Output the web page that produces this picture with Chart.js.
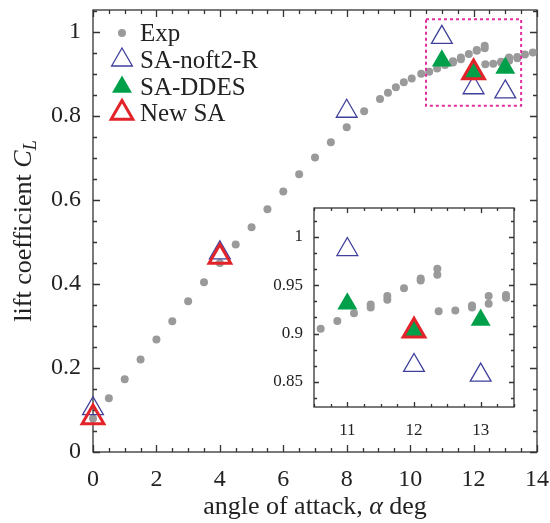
<!DOCTYPE html>
<html lang="en">
<head>
<meta charset="UTF-8">
<title>lift coefficient vs angle of attack</title>
<style>
  body { margin: 0; background: #fff; }
  #wrap { position: relative; width: 550px; height: 523px; }
  #insetChart { position: absolute; left: 270px; top: 200px; }
</style>
</head>
<body>
<div id="wrap">
  <canvas id="mainChart" width="550" height="523"></canvas>
  <canvas id="insetChart" width="262" height="245"></canvas>
</div>
<script src="https://cdn.jsdelivr.net/npm/chart.js@4.4.0/dist/chart.umd.min.js"></script>
<script>
// experiment
const alphaExp = [0, 0.5, 1, 1.5, 2, 2.5, 3, 3.5, 4, 4.5, 5, 5.5, 6, 6.5, 7, 7.5, 8, 8.55, 9.05, 9.3,
  9.55, 9.8, 10.05, 10.35, 10.6, 10.85, 11.1, 11.35, 11.35, 11.6, 11.6, 11.85, 12.1, 12.1, 12.35, 12.35,
  12.37, 12.62, 12.87, 12.87, 13.12, 13.12, 13.38, 13.38, 13.62, 13.87];
const clExp = [0.080, 0.128, 0.173, 0.220, 0.268, 0.311, 0.359, 0.404, 0.450, 0.494, 0.535, 0.578, 0.620, 0.661, 0.701, 0.737, 0.773, 0.811, 0.840, 0.855,
  0.868, 0.880, 0.889, 0.900, 0.905, 0.913, 0.921, 0.927, 0.930, 0.935, 0.939, 0.947, 0.955, 0.957, 0.961, 0.967,
  0.923, 0.924, 0.927, 0.929, 0.931, 0.939, 0.937, 0.940, 0.946, 0.951];
// simulations
const alphaNoft = [0, 4, 8, 11, 12, 13];
const clNoft = [0.103, 0.474, 0.811, 0.987, 0.867, 0.857];
const alphaDdes = [11, 12, 13];
const clDdes = [0.931, 0.903, 0.914];
const alphaNew = [0, 4, 12];
const clNew = [0.082, 0.464, 0.903];

const seriesNames = ['Exp', 'SA-noft2-R', 'SA-DDES', 'New SA'];

const xTicksMain = [0, 2, 4, 6, 8, 10, 12, 14];
const yTicksMain = [0, 0.2, 0.4, 0.6, 0.8, 1];
const xTicksInset = [11, 12, 13];
const yTicksInset = [0.85, 0.9, 0.95, 1];
const zoomX = [10.5, 13.5];
const zoomY = [0.824, 1.03];

const SERIF = 'Liberation Serif';
const TXT = '#222';

const pts = (xs, ys) => xs.map((v, i) => ({ x: v, y: ys[i] }));
const inBox = p => p.x >= zoomX[0] && p.x <= zoomX[1] && p.y >= zoomY[0] && p.y <= zoomY[1];

function makeSets(filter) {
  const f = filter || (() => true);
  return [
    { label: seriesNames[0], data: pts(alphaExp, clExp).filter(f), order: 4,
      pointStyle: 'circle', pointRadius: 4, pointBorderWidth: 0,
      pointBackgroundColor: '#9a9a9a', pointBorderColor: '#9a9a9a' },
    { label: seriesNames[1], data: pts(alphaNoft, clNoft).filter(f), order: 3,
      pointStyle: 'triangle', pointRadius: 12, pointBorderWidth: 1.3,
      pointBackgroundColor: 'rgba(0,0,0,0)', pointBorderColor: '#3f3f9c' },
    { label: seriesNames[2], data: pts(alphaDdes, clDdes).filter(f), order: 2,
      pointStyle: 'triangle', pointRadius: 11.5, pointBorderWidth: 0,
      pointBackgroundColor: '#00a04a', pointBorderColor: '#00a04a' },
    { label: seriesNames[3], data: pts(alphaNew, clNew).filter(f), order: 1,
      pointStyle: 'triangle', pointRadius: 12.5, pointBorderWidth: 3,
      pointBackgroundColor: 'rgba(0,0,0,0)', pointBorderColor: '#e3232a' }
  ].map(d => Object.assign(d, { showLine: false, clip: false }));
}

const fmt = v => String(+Number(v).toFixed(2));

// box + inward ticks on all four sides
const frameTicks = {
  id: 'frameTicks',
  beforeDatasetsDraw(chart, args, o) {
    const { ctx, chartArea: a, scales: { x, y } } = chart;
    ctx.save();
    if (o.fill) { ctx.fillStyle = o.fill; ctx.fillRect(a.left, a.top, a.right - a.left, a.bottom - a.top); }
    ctx.strokeStyle = o.color;
    ctx.lineWidth = o.width;
    ctx.beginPath();
    const run = (scale, step, len, horiz) => {
      const n0 = Math.ceil(scale.min / step - 1e-6), n1 = Math.floor(scale.max / step + 1e-6);
      for (let n = n0; n <= n1; n++) {
        const p = Math.round(scale.getPixelForValue(n * step)) + 0.5;
        if (horiz) {
          ctx.moveTo(p, a.bottom); ctx.lineTo(p, a.bottom - len);
          ctx.moveTo(p, a.top); ctx.lineTo(p, a.top + len);
        } else {
          ctx.moveTo(a.left, p); ctx.lineTo(a.left + len, p);
          ctx.moveTo(a.right, p); ctx.lineTo(a.right - len, p);
        }
      }
    };
    run(x, o.xMinor, o.minorLen, true);
    run(x, o.xMajor, o.majorLen, true);
    run(y, o.yMinor, o.minorLen, false);
    run(y, o.yMajor, o.majorLen, false);
    ctx.stroke();
    ctx.strokeRect(a.left, a.top, a.right - a.left, a.bottom - a.top);
    ctx.restore();
  }
};

function drawRuns(ctx, runs, cx, cy) {
  let w = 0;
  runs.forEach(r => { ctx.font = r.font; r.w = ctx.measureText(r.text).width; w += r.w; });
  let xx = cx - w / 2;
  ctx.textAlign = 'left';
  ctx.textBaseline = 'alphabetic';
  runs.forEach(r => { ctx.font = r.font; ctx.fillText(r.text, xx, cy + (r.dy || 0)); xx += r.w; });
}

// axis titles, legend, zoom box for the main chart
const decor = {
  id: 'decor',
  afterDatasetsDraw(chart) {
    const { ctx, scales: { x, y } } = chart;
    ctx.save();
    // dashed zoom box
    ctx.strokeStyle = '#e22d9c';
    ctx.lineWidth = 2;
    ctx.setLineDash([3, 3]);
    const x0 = x.getPixelForValue(zoomX[0]), x1 = x.getPixelForValue(zoomX[1]);
    const y0 = y.getPixelForValue(zoomY[1]), y1 = y.getPixelForValue(zoomY[0]);
    ctx.strokeRect(x0, y0, x1 - x0, y1 - y0);
    ctx.setLineDash([]);

    // legend
    const rows = [33, 60, 87, 113];
    chart.data.datasets.forEach((d, i) => {
      ctx.fillStyle = d.pointBackgroundColor;
      ctx.strokeStyle = d.pointBorderColor;
      ctx.lineWidth = d.pointBorderWidth;
      Chart.helpers.drawPoint(ctx, { pointStyle: d.pointStyle, radius: d.pointRadius,
        borderWidth: d.pointBorderWidth, rotation: 0 }, 122, rows[i]);
      ctx.fillStyle = TXT;
      ctx.font = '25px "' + SERIF + '"';
      ctx.textAlign = 'left';
      ctx.textBaseline = 'middle';
      ctx.fillText(d.label, 140, rows[i] + 1);
    });

    // x title
    ctx.fillStyle = TXT;
    const f = '26px "' + SERIF + '"', fi = 'italic 26px "' + SERIF + '"';
    drawRuns(ctx, [
      { text: 'angle of attack, ', font: f },
      { text: 'α', font: fi },
      { text: ' deg', font: f }
    ], (chart.chartArea.left + chart.chartArea.right) / 2, 514);

    // y title
    ctx.translate(31, (chart.chartArea.top + chart.chartArea.bottom) / 2);
    ctx.rotate(-Math.PI / 2);
    drawRuns(ctx, [
      { text: 'lift coefficient ', font: f },
      { text: 'C', font: fi },
      { text: 'L', font: 'italic 18px "' + SERIF + '"', dy: 5 }
    ], 0, 0);
    ctx.restore();
  }
};

function axis(min, max, ticks, size, pad, fit) {
  return {
    type: 'linear', min, max,
    grid: { display: false, drawTicks: false },
    border: { display: false },
    afterBuildTicks: s => { s.ticks = ticks.map(v => ({ value: v })); },
    afterFit: s => {
      fit(s);
      s.paddingTop = 0; s.paddingBottom = 0; s.paddingLeft = 0; s.paddingRight = 0;
    },
    ticks: { font: { family: SERIF, size }, color: TXT, padding: pad,
      maxRotation: 0, autoSkip: false, callback: fmt }
  };
}

new Chart(document.getElementById('mainChart').getContext('2d'), {
  type: 'scatter',
  data: { datasets: makeSets() },
  options: {
    responsive: false, animation: false, events: [],
    layout: { autoPadding: false, padding: { left: 0, right: 13, top: 10, bottom: 0 } },
    scales: {
      x: axis(0, 14, xTicksMain, 24, 13, s => { s.height = 71; }),
      y: axis(0, 1.052, yTicksMain, 24, 12, s => { s.width = 93; })
    },
    plugins: {
      legend: { display: false }, tooltip: { enabled: false },
      frameTicks: { color: '#333', width: 1.3, xMajor: 2, xMinor: 0.5, yMajor: 0.2, yMinor: 0.05,
        majorLen: 7, minorLen: 4 }
    }
  },
  plugins: [frameTicks, decor]
});

new Chart(document.getElementById('insetChart').getContext('2d'), {
  type: 'scatter',
  data: { datasets: makeSets(inBox) },
  options: {
    responsive: false, animation: false, events: [],
    layout: { autoPadding: false, padding: { left: 0, right: 18, top: 8, bottom: 0 } },
    scales: {
      x: axis(zoomX[0], zoomX[1], xTicksInset, 17, 13, s => { s.height = 38; }),
      y: axis(zoomY[0], zoomY[1], yTicksInset, 17, 11, s => { s.width = 44; })
    },
    plugins: {
      legend: { display: false }, tooltip: { enabled: false },
      frameTicks: { fill: '#fff', color: '#333', width: 1.3, xMajor: 1, xMinor: 0.25, yMajor: 0.05, yMinor: 0.05 / 3,
        majorLen: 5, minorLen: 3 }
    }
  },
  plugins: [frameTicks]
});
</script>
</body>
</html>
